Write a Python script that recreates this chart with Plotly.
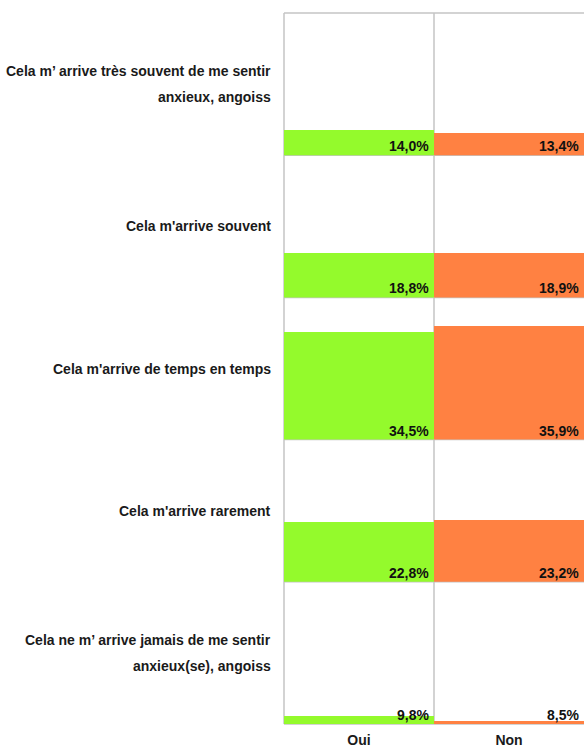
import plotly.graph_objects as go
from plotly.subplots import make_subplots

categories = [
    "Cela m’ arrive très souvent de me sentir<br>anxieux, angoiss",
    "Cela m'arrive souvent",
    "Cela m'arrive de temps en temps",
    "Cela m'arrive rarement",
    "Cela ne m’ arrive jamais de me sentir<br>anxieux(se), angoiss",
]
columns = ["Oui", "Non"]
oui_values = [14.0, 18.8, 34.5, 22.8, 9.8]
non_values = [13.4, 18.9, 35.9, 23.2, 8.5]

Y_MIN, Y_MAX = 7.75, 43.25
colors = {"Oui": "#94fa2c", "Non": "#ff8142"}
FONT = "Liberation Sans, Arial, sans-serif"

fig = make_subplots(rows=5, cols=2, horizontal_spacing=0, vertical_spacing=0)

series = {"Oui": oui_values, "Non": non_values}
annotations = []
for r, cat in enumerate(categories):
    for c, col in enumerate(columns):
        v = series[col][r]
        fig.add_trace(
            go.Bar(x=[col], y=[v], marker=dict(color=colors[col], line=dict(width=0)),
                   width=1, showlegend=False, hoverinfo="skip"),
            row=r + 1, col=c + 1,
        )
        idx = r * 2 + c + 1
        suffix = "" if idx == 1 else str(idx)
        annotations.append(dict(
            text=f"{v:.1f}".replace(".", ",") + "%",
            xref=f"x{suffix} domain", x=1, xanchor="right", xshift=-3,
            yref=f"y{suffix}", y=Y_MIN, yanchor="bottom", yshift=-1,
            showarrow=False,
            font=dict(family=FONT, size=14, color="#111111", weight="bold"),
        ))
    lines = cat.split("<br>")
    n = len(lines)
    for i, line in enumerate(lines):
        annotations.append(dict(
            text=line, xref="paper", x=0, xanchor="right", xshift=-11,
            yref="paper", y=1 - (r + 0.5) / 5, yanchor="middle",
            yshift=((n - 1) / 2 - i) * 26,
            showarrow=False,
            font=dict(family=FONT, size=14, color="#1a1a1a", weight="bold"),
        ))

for i in range(1, 11):
    suffix = "" if i == 1 else str(i)
    fig.layout["xaxis" + suffix].update(
        type="category", range=[-0.5, 0.5], showgrid=False, zeroline=False,
        showline=False, ticks="", showticklabels=(i > 8), ticklabelstandoff=6,
        tickfont=dict(family=FONT, size=14, color="#1a1a1a", weight="bold"),
    )
    fig.layout["yaxis" + suffix].update(range=[Y_MIN, Y_MAX], visible=False)

shapes = []
gc = "#c4c4c4"
for k in range(6):
    shapes.append(dict(type="line", xref="paper", yref="paper", x0=0, x1=1, y0=k / 5, y1=k / 5,
                       line=dict(color=gc, width=1.5), layer="below"))
for xv in [0, 0.5]:
    shapes.append(dict(type="line", xref="paper", yref="paper", x0=xv, x1=xv, y0=0, y1=1,
                       line=dict(color=gc, width=1.5), layer="below"))

fig.update_layout(
    width=584, height=750,
    margin=dict(l=284, r=0, t=13, b=26),
    paper_bgcolor="white", plot_bgcolor="white",
    bargap=0, showlegend=False,
    annotations=annotations, shapes=shapes,
    font=dict(family=FONT),
)

fig.write_html("out.html", config={"displayModeBar": False},
               post_script="document.body.style.margin='0';document.body.style.overflow='hidden';")
